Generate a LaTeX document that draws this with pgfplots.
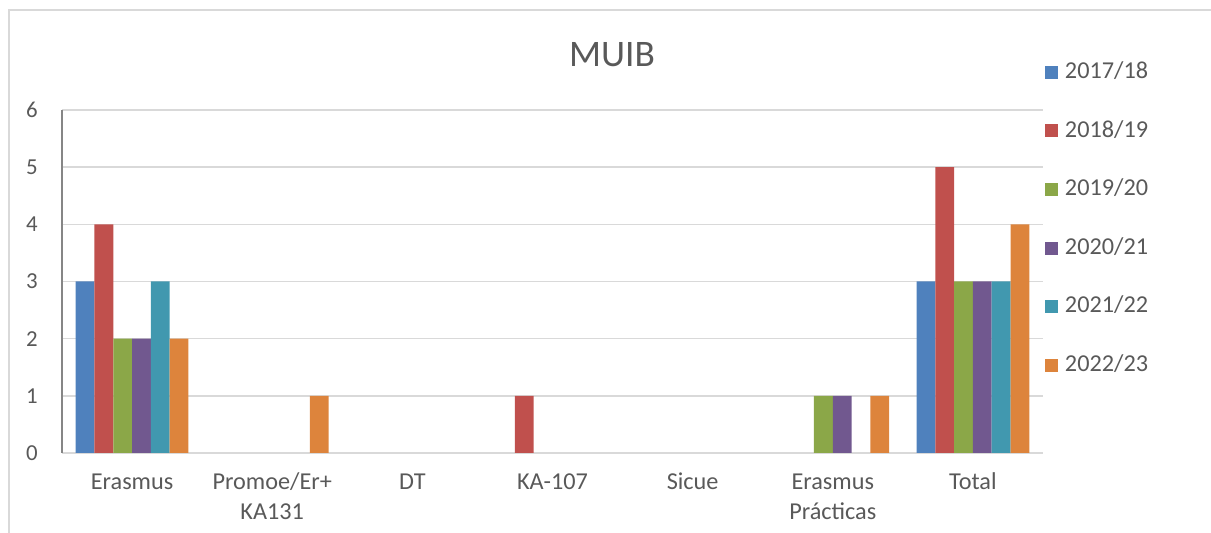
\documentclass[border=0pt]{standalone}
\usepackage{pgfplots}
\pgfplotsset{compat=1.18}
\usepackage{fontspec}
\setmainfont{Carlito}

\definecolor{c1}{HTML}{4F81BD}
\definecolor{c2}{HTML}{C0504D}
\definecolor{c3}{HTML}{8BA748}
\definecolor{c4}{HTML}{71588F}
\definecolor{c5}{HTML}{4198AF}
\definecolor{c6}{HTML}{DD843C}
\definecolor{txt}{HTML}{595959}
\definecolor{gridc}{HTML}{D9D9D9}
\definecolor{axisc}{HTML}{868686}

% two-line category label, baseline on the first line
\newcommand{\tl}[1]{\begin{tabular}[t]{@{}c@{}}#1\end{tabular}}

\begin{document}
\begin{tikzpicture}
% 1 px of the reference = 0.02cm
\useasboundingbox (0,0) rectangle (24.22cm,10.66cm);
\draw[gridc, line width=0.04cm] (0.18cm,-0.5cm) -- (0.18cm,10.46cm) -- (25cm,10.46cm);
\node[text=txt, font=\fontsize{21.3}{26}\selectfont, inner sep=0pt] at (12.24cm,9.56cm) {MUIB};
\begin{axis}[
    at={(1.24cm,1.6cm)}, anchor=south west,
    scale only axis, width=19.62cm, height=6.86cm,
    xmin=-0.5, xmax=6.5, ymin=0, ymax=6,
    enlarge x limits=false,
    ybar=0pt, bar width=0.376cm,
    y filter/.expression={y==0 ? nan : y},
    unbounded coords=discard,
    xtick={0,...,6},
    xticklabels={Erasmus,\tl{Promoe/Er+\\KA131},DT,KA-107,Sicue,\tl{Erasmus\\Prácticas},Total},
    ytick={0,...,6},
    ymajorgrids, grid style={gridc, line width=0.03cm},
    axis x line*=bottom, axis y line*=left,
    x axis line style={-, draw=gridc, line width=0.03cm},
    y axis line style={-, draw=axisc, line width=0.03cm},
    major tick length=0pt, tick style={draw=none},
    /pgf/number format/assume math mode=true,
    ticklabel style={font=\fontsize{13.8}{17}\selectfont, text=txt},
    yticklabel style={anchor=east, inner sep=0pt, xshift=-0.48cm, font=\fontsize{13}{17}\selectfont},
    xticklabel style={anchor=base, inner sep=0pt, yshift=-0.74cm},
    legend style={at={(1.002,1.143)}, anchor=north west, draw=none, fill=none,
        inner sep=0pt, outer sep=0pt,
        font=\fontsize{13.8}{17}\selectfont, text=txt,
        nodes={inner sep=0pt, text height=0.35cm, text depth=0.1cm},
        row sep=0.722cm,
        /tikz/every odd column/.append style={column sep=0.14cm}},
    legend cell align=left,
    legend image code/.code={\fill[#1] (0cm,-0.13cm) rectangle (0.26cm,0.13cm);},
]
\addplot[fill=c1, draw=none] coordinates {(0,3) (1,0) (2,0) (3,0) (4,0) (5,0) (6,3)};
\addlegendentry{2017/18}
\addplot[fill=c2, draw=none] coordinates {(0,4) (1,0) (2,0) (3,1) (4,0) (5,0) (6,5)};
\addlegendentry{2018/19}
\addplot[fill=c3, draw=none] coordinates {(0,2) (1,0) (2,0) (3,0) (4,0) (5,1) (6,3)};
\addlegendentry{2019/20}
\addplot[fill=c4, draw=none] coordinates {(0,2) (1,0) (2,0) (3,0) (4,0) (5,1) (6,3)};
\addlegendentry{2020/21}
\addplot[fill=c5, draw=none] coordinates {(0,3) (1,0) (2,0) (3,0) (4,0) (5,0) (6,3)};
\addlegendentry{2021/22}
\addplot[fill=c6, draw=none] coordinates {(0,2) (1,1) (2,0) (3,0) (4,0) (5,1) (6,4)};
\addlegendentry{2022/23}
\end{axis}
\end{tikzpicture}
\end{document}
